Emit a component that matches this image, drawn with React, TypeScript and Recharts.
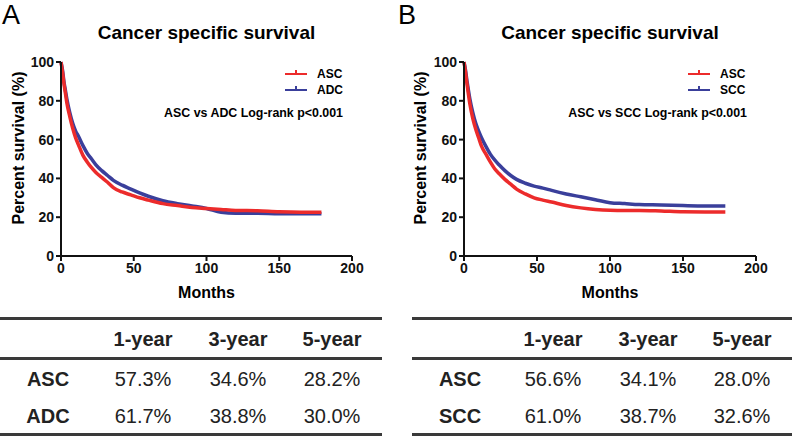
import { LineChart, Line, XAxis, YAxis } from "recharts";

// follow-up months where the curves were read
const months = [0, 1, 2, 3, 4, 6, 8, 10, 12, 15, 18, 21, 24, 28, 32, 36, 42, 48, 54, 60, 70, 80, 90, 100, 110, 120, 135, 150, 165, 179];

// panel A: ASC vs ADC
const ascA = [100, 95, 89, 84, 79, 72, 66, 61, 57.3, 52, 48.5, 45.5, 43, 40.5, 38, 35.2, 33, 31.5, 30, 28.8, 27, 26, 25, 24.5, 24, 23.5, 23.3, 22.8, 22.6, 22.6];
const adcA = [100, 96, 90, 85.5, 81, 74, 68.5, 64.5, 61.7, 57, 53, 50, 47, 44, 41.5, 39, 36.5, 34.5, 32.5, 30.8, 28.5, 27, 25.8, 24.5, 22.5, 22, 22, 21.8, 21.8, 21.8];

// panel B: ASC vs SCC
const ascB = [100, 95, 89, 83.5, 78.5, 71, 65.5, 61, 56.6, 52.5, 48.5, 45, 42.5, 39.5, 37, 34.5, 32, 30, 28.8, 27.8, 26, 24.8, 24, 23.6, 23.5, 23.5, 23.2, 22.8, 22.7, 22.7];
const sccB = [100, 96, 90.5, 85.5, 81, 74, 68.5, 64.5, 61, 56.5, 52.5, 49.5, 47, 44, 41.5, 39.5, 37.5, 36, 35, 33.8, 32, 30.5, 29, 27.5, 27, 26.5, 26.3, 26, 25.8, 25.8];

const xTicks = [0, 50, 100, 150, 200];
const yTicks = [0, 20, 40, 60, 80, 100];

const tableHeaders = ["1-year", "3-year", "5-year"];
const rowsA = [
  { name: "ASC", values: ["57.3%", "34.6%", "28.2%"] },
  { name: "ADC", values: ["61.7%", "38.8%", "30.0%"] },
];
const rowsB = [
  { name: "ASC", values: ["56.6%", "34.1%", "28.0%"] },
  { name: "SCC", values: ["61.0%", "38.7%", "32.6%"] },
];

const RED = "#ec2b2b";
const BLUE = "#3a3f9b";
const FONT = "Arial, 'Liberation Sans', sans-serif";

type PanelProps = {
  left: number;
  letter: string;
  names: [string, string];
  first: number[];
  second: number[];
  margin: { top: number; right: number; bottom: number; left: number };
  legendX: number;
  pText: string;
  pRight: number;
};

function Panel({ left, letter, names, first, second, margin, legendX, pText, pRight }: PanelProps) {
  const data = months.map((m, i) => ({ m, a: first[i], b: second[i] }));
  const tick = { fontSize: 14, fontWeight: 700, fill: "#111", fontFamily: FONT };
  const plotCenter = margin.left + 40 + (400 - margin.left - 40 - margin.right) / 2;
  return (
    <div style={{ position: "absolute", left, top: 0, width: 400, height: 300 }}>
      <LineChart width={400} height={300} data={data} margin={margin}>
        <XAxis
          dataKey="m"
          type="number"
          domain={[0, 200]}
          ticks={xTicks}
          height={30}
          tick={tick}
          stroke="#111"
          strokeWidth={2}
          tickSize={5}
        />
        <YAxis
          type="number"
          domain={[0, 100]}
          ticks={yTicks}
          width={40}
          tick={tick}
          stroke="#111"
          strokeWidth={2}
          tickSize={5}
        />
        <Line type="monotone" dataKey="b" stroke={BLUE} strokeWidth={3.5} dot={false} isAnimationActive={false} />
        <Line type="monotone" dataKey="a" stroke={RED} strokeWidth={3.5} dot={false} isAnimationActive={false} />
      </LineChart>
      <div style={{ position: "absolute", left: letter === "A" ? 2 : -2, top: 0, fontSize: 27, lineHeight: "30px", fontFamily: FONT }}>{letter}</div>
      <div style={{ position: "absolute", left: plotCenter - 150, width: 300, top: 21, textAlign: "center", fontSize: 19, fontWeight: 700, fontFamily: FONT, lineHeight: "24px" }}>
        Cancer specific survival
      </div>
      <div style={{ position: "absolute", left: plotCenter - 60, width: 120, top: 283, textAlign: "center", fontSize: 16, fontWeight: 700, fontFamily: FONT, lineHeight: "20px" }}>
        Months
      </div>
      <div
        style={{
          position: "absolute",
          left: (letter === "A" ? 19 : 21) - 100,
          top: 148 - 10,
          width: 200,
          textAlign: "center",
          fontSize: 16,
          fontWeight: 700,
          fontFamily: FONT,
          lineHeight: "20px",
          transform: "rotate(-90deg)",
        }}
      >
        Percent survival (%)
      </div>
      {[names[0], names[1]].map((n, i) => (
        <div key={n + i} style={{ position: "absolute", left: legendX, top: (i === 0 ? 74 : 90) - 8, height: 16, fontFamily: FONT }}>
          <div style={{ position: "absolute", left: 0, top: 7, width: 22, height: 2, background: i === 0 ? RED : BLUE }} />
          <div style={{ position: "absolute", left: 10, top: 4, width: 2, height: 5, background: i === 0 ? RED : BLUE }} />
          <div style={{ position: "absolute", left: 32, top: 0, fontSize: 12, fontWeight: 700, lineHeight: "16px", whiteSpace: "nowrap" }}>{n}</div>
        </div>
      ))}
      <div style={{ position: "absolute", right: 400 - pRight, top: 105, fontSize: 12.4, fontWeight: 700, fontFamily: FONT, lineHeight: "16px", whiteSpace: "nowrap" }}>
        {pText}
      </div>
    </div>
  );
}

type TableProps = {
  left: number;
  width: number;
  cols: number[];
  rows: { name: string; values: string[] }[];
};

function SurvTable({ left, width, cols, rows }: TableProps) {
  const line = (top: number) => (
    <div style={{ position: "absolute", left: 0, top, width, height: 2.5, background: "#3a3a3a" }} />
  );
  const cell = (x: number, y: number, text: string, bold: boolean) => (
    <div
      key={text + x + y}
      style={{
        position: "absolute",
        left: x - 50,
        width: 100,
        top: y - 12,
        height: 24,
        lineHeight: "24px",
        textAlign: "center",
        fontSize: 20,
        fontWeight: bold ? 700 : 400,
        color: "#222",
        fontFamily: FONT,
      }}
    >
      {text}
    </div>
  );
  return (
    <div style={{ position: "absolute", left, top: 0, width, height: 436 }}>
      {line(317)}
      {line(357)}
      {line(433)}
      {tableHeaders.map((h, i) => cell(cols[i + 1], 339, h, true))}
      {rows.map((r, ri) => {
        const y = ri === 0 ? 379 : 416;
        return [cell(cols[0], y, r.name, true), ...r.values.map((v, i) => cell(cols[i + 1], y, v, false))];
      })}
    </div>
  );
}

export default function App() {
  return (
    <div style={{ position: "absolute", left: 0, top: 0, width: 800, height: 436, background: "#fff", overflow: "hidden" }}>
      <Panel
        left={0}
        letter="A"
        names={["ASC", "ADC"]}
        first={ascA}
        second={adcA}
        margin={{ top: 62, right: 48, bottom: 14, left: 21 }}
        legendX={285}
        pText="ASC vs ADC Log-rank p<0.001"
        pRight={343}
      />
      <Panel
        left={400}
        letter="B"
        names={["ASC", "SCC"]}
        first={ascB}
        second={sccB}
        margin={{ top: 62, right: 44, bottom: 14, left: 24 }}
        legendX={288}
        pText="ASC vs SCC Log-rank p<0.001"
        pRight={347}
      />
      <SurvTable left={0} width={382} cols={[48, 143, 238, 332]} rows={rowsA} />
      <SurvTable left={412} width={380} cols={[48, 141, 236, 330]} rows={rowsB} />
    </div>
  );
}
